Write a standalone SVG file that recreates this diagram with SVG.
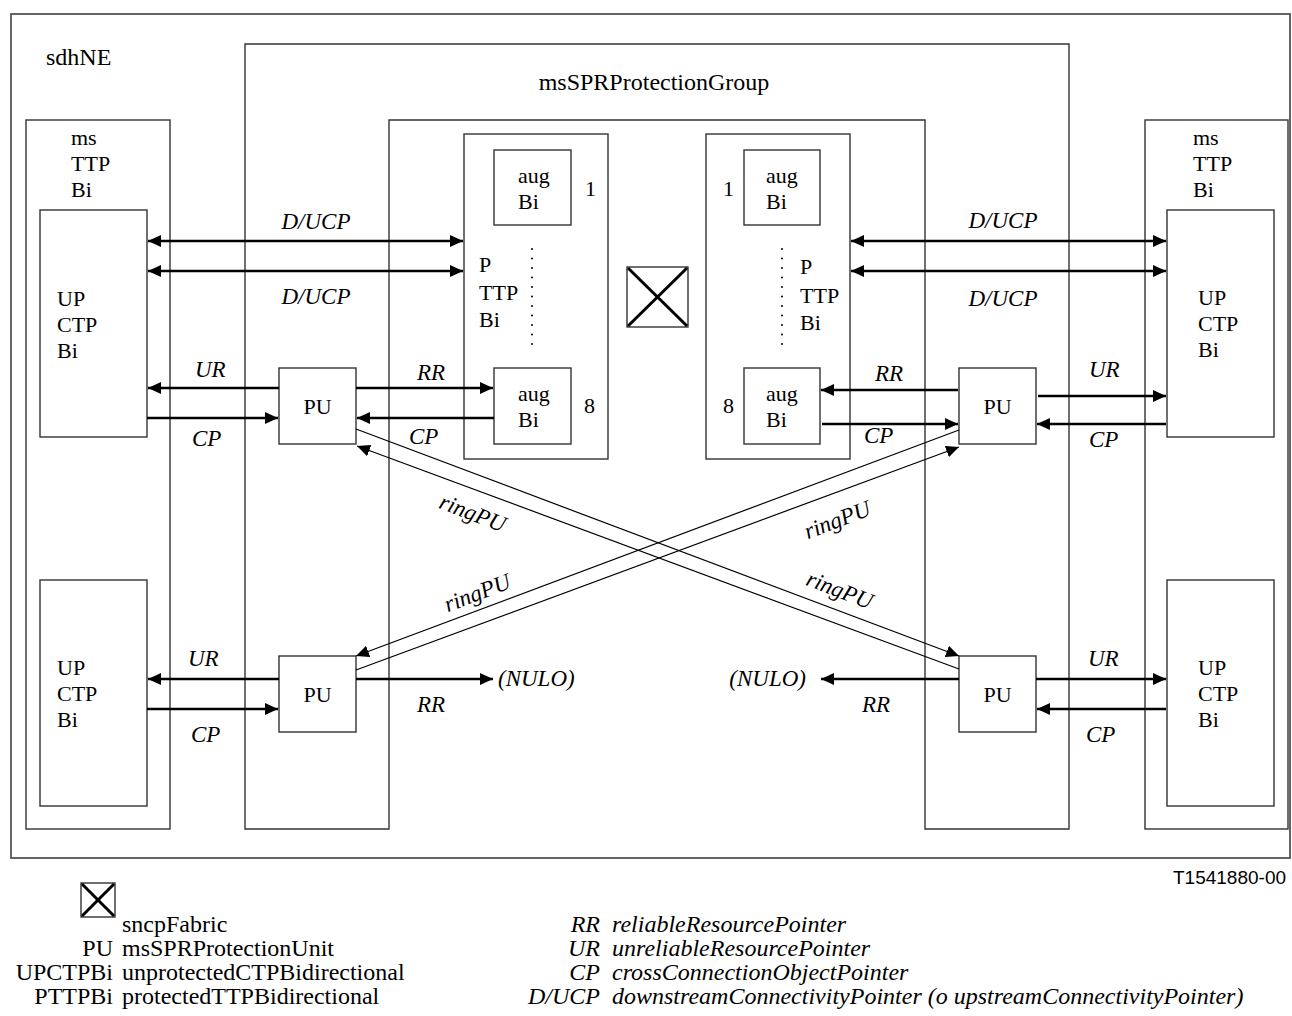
<svg xmlns="http://www.w3.org/2000/svg" width="1292" height="1016" viewBox="0 0 1292 1016">
<style>
  .box{fill:none;stroke:#333;stroke-width:1.4}
  .t{font-family:"Liberation Serif","Times New Roman",serif;font-size:22px;fill:#000}
  .big{font-size:24px}
  .lg{font-family:"Liberation Serif","Times New Roman",serif;font-size:24px;fill:#000}
  .lgi{font-family:"Liberation Serif","Times New Roman",serif;font-size:24px;font-style:italic;fill:#000}
  .i{font-family:"Liberation Serif","Times New Roman",serif;font-size:23px;font-style:italic;fill:#000}
  .thick{stroke:#000;stroke-width:2.5;fill:none}
  .thin{stroke:#000;stroke-width:1.2;fill:none}
  .dots{stroke:#000;stroke-width:2;stroke-linecap:round;stroke-dasharray:0.1 9.4;fill:none}
  .xd{stroke:#000;stroke-width:3}
</style>
<defs>
  <marker id="ah" markerUnits="userSpaceOnUse" markerWidth="14" markerHeight="12" refX="13" refY="6" orient="auto-start-reverse" viewBox="0 0 14 12">
    <path d="M0,0 L13,6 L0,12 z" fill="#000"/>
  </marker>
</defs>
<rect width="1292" height="1016" fill="#fff"/>

<g id="sdhNE">
  <rect class="box" x="11" y="14" width="1279" height="844" style="stroke:#555;stroke-width:1.8"/>
  <text class="t big" x="46" y="65">sdhNE</text>
</g>

<g id="msSPRProtectionGroup">
  <path class="box" d="M245,829 V44 H1069 V829 H925 V120 H389 V829 Z"/>
  <text class="t big" x="654" y="90" text-anchor="middle">msSPRProtectionGroup</text>
</g>

<g id="msTTPBi-left">
  <rect class="box" x="26" y="120" width="144" height="709"/>
  <text class="t" x="71" y="145">ms</text>
  <text class="t" x="71" y="171">TTP</text>
  <text class="t" x="71" y="197">Bi</text>
</g>
<g id="UPCTPBi-left-top">
  <rect class="box" x="40" y="210" width="107" height="227"/>
  <text class="t" x="57" y="306">UP</text>
  <text class="t" x="57" y="332">CTP</text>
  <text class="t" x="57" y="358">Bi</text>
</g>
<g id="UPCTPBi-left-bottom">
  <rect class="box" x="40" y="580" width="107" height="226"/>
  <text class="t" x="57" y="675">UP</text>
  <text class="t" x="57" y="701">CTP</text>
  <text class="t" x="57" y="727">Bi</text>
</g>

<g id="msTTPBi-right">
  <rect class="box" x="1145" y="120" width="143" height="709"/>
  <text class="t" x="1193" y="145">ms</text>
  <text class="t" x="1193" y="171">TTP</text>
  <text class="t" x="1193" y="197">Bi</text>
</g>
<g id="UPCTPBi-right-top">
  <rect class="box" x="1167" y="210" width="107" height="227"/>
  <text class="t" x="1198" y="305">UP</text>
  <text class="t" x="1198" y="331">CTP</text>
  <text class="t" x="1198" y="357">Bi</text>
</g>
<g id="UPCTPBi-right-bottom">
  <rect class="box" x="1167" y="580" width="107" height="226"/>
  <text class="t" x="1198" y="675">UP</text>
  <text class="t" x="1198" y="701">CTP</text>
  <text class="t" x="1198" y="727">Bi</text>
</g>

<g id="PTTPBi-left">
  <rect class="box" x="464" y="134" width="144" height="325"/>
  <text class="t" x="479" y="272">P</text>
  <text class="t" x="479" y="300">TTP</text>
  <text class="t" x="479" y="327">Bi</text>
  <line class="dots" x1="532" y1="249" x2="532" y2="344"/>
  <text class="t" x="585" y="196">1</text>
  <text class="t" x="584" y="413">8</text>
</g>
<g id="augBi-left-1">
  <rect class="box" x="494" y="150" width="77" height="75"/>
  <text class="t" x="518" y="183">aug</text>
  <text class="t" x="518" y="209">Bi</text>
</g>
<g id="augBi-left-8">
  <rect class="box" x="494" y="368" width="77" height="76"/>
  <text class="t" x="518" y="401">aug</text>
  <text class="t" x="518" y="427">Bi</text>
</g>

<g id="PTTPBi-right">
  <rect class="box" x="706" y="134" width="144" height="325"/>
  <text class="t" x="800" y="274">P</text>
  <text class="t" x="800" y="303">TTP</text>
  <text class="t" x="800" y="330">Bi</text>
  <line class="dots" x1="782" y1="249" x2="782" y2="344"/>
  <text class="t" x="723" y="196">1</text>
  <text class="t" x="723" y="413">8</text>
</g>
<g id="augBi-right-1">
  <rect class="box" x="744" y="150" width="76" height="75"/>
  <text class="t" x="766" y="183">aug</text>
  <text class="t" x="766" y="209">Bi</text>
</g>
<g id="augBi-right-8">
  <rect class="box" x="744" y="368" width="76" height="76"/>
  <text class="t" x="766" y="401">aug</text>
  <text class="t" x="766" y="427">Bi</text>
</g>

<g id="sncpFabric">
  <rect class="box" x="627" y="267" width="61" height="60"/>
  <line class="xd" x1="628" y1="268" x2="687" y2="326"/>
  <line class="xd" x1="687" y1="268" x2="628" y2="326"/>
</g>

<g id="PU-upper-left">
  <rect class="box" x="279" y="368" width="77" height="76"/>
  <text class="t" x="317.5" y="414" text-anchor="middle">PU</text>
</g>
<g id="PU-upper-right">
  <rect class="box" x="959" y="368" width="77" height="76"/>
  <text class="t" x="997.5" y="414" text-anchor="middle">PU</text>
</g>
<g id="PU-lower-left">
  <rect class="box" x="279" y="656" width="77" height="76"/>
  <text class="t" x="317.5" y="702" text-anchor="middle">PU</text>
</g>
<g id="PU-lower-right">
  <rect class="box" x="959" y="656" width="77" height="76"/>
  <text class="t" x="997.5" y="702" text-anchor="middle">PU</text>
</g>

<g id="connectors">
  <!-- D/UCP -->
  <line class="thick" x1="148" y1="241" x2="463" y2="241" marker-start="url(#ah)" marker-end="url(#ah)"/>
  <line class="thick" x1="148" y1="271" x2="463" y2="271" marker-start="url(#ah)" marker-end="url(#ah)"/>
  <line class="thick" x1="851" y1="241" x2="1166" y2="241" marker-start="url(#ah)" marker-end="url(#ah)"/>
  <line class="thick" x1="851" y1="271" x2="1166" y2="271" marker-start="url(#ah)" marker-end="url(#ah)"/>
  <!-- upper-left PU -->
  <line class="thick" x1="279" y1="388" x2="148" y2="388" marker-end="url(#ah)"/>
  <line class="thick" x1="147" y1="418" x2="278" y2="418" marker-end="url(#ah)"/>
  <line class="thick" x1="356" y1="388" x2="493" y2="388" marker-end="url(#ah)"/>
  <line class="thick" x1="494" y1="418" x2="357" y2="418" marker-end="url(#ah)"/>
  <!-- upper-right PU -->
  <line class="thick" x1="958" y1="390" x2="821" y2="390" marker-end="url(#ah)"/>
  <line class="thick" x1="822" y1="424" x2="958" y2="424" marker-end="url(#ah)"/>
  <line class="thick" x1="1038" y1="396" x2="1166" y2="396" marker-end="url(#ah)"/>
  <line class="thick" x1="1166" y1="424" x2="1037" y2="424" marker-end="url(#ah)"/>
  <!-- lower-left PU -->
  <line class="thick" x1="279" y1="679" x2="148" y2="679" marker-end="url(#ah)"/>
  <line class="thick" x1="147" y1="709" x2="278" y2="709" marker-end="url(#ah)"/>
  <line class="thick" x1="356" y1="679" x2="493" y2="679" marker-end="url(#ah)"/>
  <!-- lower-right PU -->
  <line class="thick" x1="959" y1="679" x2="821" y2="679" marker-end="url(#ah)"/>
  <line class="thick" x1="1036" y1="679" x2="1166" y2="679" marker-end="url(#ah)"/>
  <line class="thick" x1="1166" y1="709" x2="1037" y2="709" marker-end="url(#ah)"/>
  <!-- ringPU -->
  <line class="thin" x1="356" y1="429" x2="959" y2="656" marker-end="url(#ah)"/>
  <line class="thin" x1="959" y1="669" x2="357" y2="446" marker-end="url(#ah)"/>
  <line class="thin" x1="959" y1="430" x2="356" y2="656" marker-end="url(#ah)"/>
  <line class="thin" x1="356" y1="670" x2="959" y2="447" marker-end="url(#ah)"/>

  <text class="i" x="316" y="229" text-anchor="middle">D/UCP</text>
  <text class="i" x="316" y="304" text-anchor="middle">D/UCP</text>
  <text class="i" x="1003" y="228" text-anchor="middle">D/UCP</text>
  <text class="i" x="1003" y="306" text-anchor="middle">D/UCP</text>

  <text class="i" x="195" y="377">UR</text>
  <text class="i" x="192" y="446">CP</text>
  <text class="i" x="417" y="380">RR</text>
  <text class="i" x="409" y="444">CP</text>
  <text class="i" x="875" y="381">RR</text>
  <text class="i" x="864" y="443">CP</text>
  <text class="i" x="1089" y="377">UR</text>
  <text class="i" x="1089" y="447">CP</text>

  <text class="i" x="188" y="666">UR</text>
  <text class="i" x="191" y="742">CP</text>
  <text class="i" x="417" y="712">RR</text>
  <text class="i" x="498" y="686">(NULO)</text>
  <text class="i" x="862" y="712">RR</text>
  <text class="i" x="806" y="686" text-anchor="end">(NULO)</text>
  <text class="i" x="1088" y="666">UR</text>
  <text class="i" x="1086" y="742">CP</text>

  <text class="i" transform="translate(470,520) rotate(21)" text-anchor="middle">ringPU</text>
  <text class="i" transform="translate(840,527) rotate(-21)" text-anchor="middle">ringPU</text>
  <text class="i" transform="translate(480,600) rotate(-21)" text-anchor="middle">ringPU</text>
  <text class="i" transform="translate(837,597) rotate(21)" text-anchor="middle">ringPU</text>
</g>

<g id="legend">
  <text x="1173" y="884" style="font-family:'Liberation Sans',Arial,sans-serif;font-size:19px">T1541880-00</text>
  <rect class="box" x="81" y="883" width="34" height="34"/>
  <line class="xd" x1="82" y1="884" x2="114" y2="916"/>
  <line class="xd" x1="114" y1="884" x2="82" y2="916"/>
  <text class="lg" x="122" y="932">sncpFabric</text>
  <text class="lg" x="113" y="956" text-anchor="end">PU</text>
  <text class="lg" x="122" y="956">msSPRProtectionUnit</text>
  <text class="lg" x="113" y="980" text-anchor="end">UPCTPBi</text>
  <text class="lg" x="122" y="980">unprotectedCTPBidirectional</text>
  <text class="lg" x="113" y="1004" text-anchor="end">PTTPBi</text>
  <text class="lg" x="122" y="1004">protectedTTPBidirectional</text>

  <text class="lgi" x="600" y="932" text-anchor="end">RR</text>
  <text class="lgi" x="612" y="932">reliableResourcePointer</text>
  <text class="lgi" x="600" y="956" text-anchor="end">UR</text>
  <text class="lgi" x="612" y="956">unreliableResourcePointer</text>
  <text class="lgi" x="600" y="980" text-anchor="end">CP</text>
  <text class="lgi" x="612" y="980">crossConnectionObjectPointer</text>
  <text class="lgi" x="600" y="1004" text-anchor="end">D/UCP</text>
  <text class="lgi" x="612" y="1004">downstreamConnectivityPointer (o upstreamConnectivityPointer)</text>
</g>
</svg>
